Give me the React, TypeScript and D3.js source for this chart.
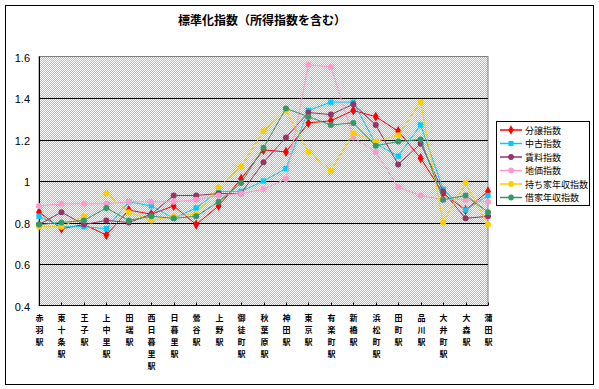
import { useRef, useEffect } from "react";
import * as d3 from "d3";

const STATIONS = [
  "赤羽駅", "東十条駅", "王子駅", "上中里駅", "田端駅", "西日暮里駅", "日暮里駅",
  "鶯谷駅", "上野駅", "御徒町駅", "秋葉原駅", "神田駅", "東京駅", "有楽町駅",
  "新橋駅", "浜松町駅", "田町駅", "品川駅", "大井町駅", "大森駅", "蒲田駅",
];

const BUNJO = [0.85, 0.77, 0.79, 0.74, 0.86, 0.84, 0.88, 0.79, 0.88, 1.01, 1.15, 1.14, 1.28, 1.29, 1.34, 1.31, 1.24, 1.11, 0.94, 0.86, 0.95];
const CHUKO = [0.83, 0.78, 0.78, 0.77, 0.9, 0.88, 0.82, 0.87, 0.95, 0.95, 1.0, 1.06, 1.34, 1.38, 1.38, 1.18, 1.12, 1.27, 0.96, 0.86, 0.93];
const CHINRYO = [0.79, 0.85, 0.79, 0.81, 0.8, 0.84, 0.93, 0.93, 0.94, 0.94, 1.09, 1.21, 1.33, 1.32, 1.37, 1.27, 1.08, 1.18, 0.95, 0.82, 0.83];
const CHIKA = [0.88, 0.89, 0.89, 0.89, 0.9, 0.9, 0.9, 0.91, 0.93, 0.94, 0.96, 1.01, 1.56, 1.55, 1.21, 1.14, 0.97, 0.93, 0.91, 0.91, 0.9];
const MOCHIIE = [0.78, 0.78, 0.83, 0.94, 0.85, 0.81, 0.83, 0.84, 0.97, 1.07, 1.24, 1.34, 1.14, 1.05, 1.23, 1.19, 1.22, 1.38, 0.8, 0.99, 0.79];
const SHAKUYA = [0.79, 0.8, 0.81, 0.87, 0.81, 0.83, 0.82, 0.83, 0.9, 0.99, 1.16, 1.35, 1.31, 1.27, 1.28, 1.17, 1.19, 1.2, 0.91, 0.93, 0.85];

const SERIES_NAMES = ["分譲指数", "中古指数", "賃料指数", "地価指数", "持ち家年収指数", "借家年収指数"];
const SERIES_VALUES = [BUNJO, CHUKO, CHINRYO, CHIKA, MOCHIIE, SHAKUYA];
const COLORS = ["#ff0000", "#00ccff", "#993366", "#ff99cc", "#ffcc00", "#339966"];
const SYMBOLS = [d3.symbolDiamond, d3.symbolSquare, d3.symbolCircle, d3.symbolCircle, d3.symbolCircle, d3.symbolCircle];
const Y_TICKS = [0.4, 0.6, 0.8, 1.0, 1.2, 1.4, 1.6];

const W = 599;
const H = 389;
const FONT = "'Noto Sans CJK JP', sans-serif";

export default function App() {
  const svgRef = useRef<SVGSVGElement>(null);

  useEffect(() => {
    if (!svgRef.current) return;
    const svg = d3.select(svgRef.current);
    svg.selectAll("*").remove();

    const left = 39, right = 488, top = 56.5, bottom = 305.5;

    const x = d3.scalePoint<string>().domain(STATIONS).range([left, right]);
    const y = d3.scaleLinear().domain([0.4, 1.6]).range([bottom, top]);

    svg.append("rect").attr("width", W).attr("height", H).attr("fill", "#fff");
    svg.append("rect")
      .attr("x", 5.5).attr("y", 5.5).attr("width", 588).attr("height", 379)
      .attr("fill", "none").attr("stroke", "#000");

    // dithered gray background, like the old excel plot area
    const pat = svg.append("defs").append("pattern")
      .attr("id", "dither").attr("width", 2).attr("height", 2)
      .attr("patternUnits", "userSpaceOnUse");
    pat.append("rect").attr("width", 2).attr("height", 2).attr("fill", "#fff");
    pat.append("rect").attr("x", 1).attr("y", 0).attr("width", 1).attr("height", 1).attr("fill", "#b8b8b8");
    pat.append("rect").attr("x", 0).attr("y", 1).attr("width", 1).attr("height", 1).attr("fill", "#b8b8b8");

    svg.append("rect")
      .attr("x", left).attr("y", top).attr("width", right - left).attr("height", bottom - top)
      .attr("fill", "url(#dither)").attr("stroke", "#808080");

    svg.append("text")
      .attr("x", 262).attr("y", 25).attr("text-anchor", "middle")
      .attr("font-family", FONT).attr("font-size", 12).attr("font-weight", "bold")
      .text("標準化指数（所得指数を含む）");

    // gridlines + y labels
    Y_TICKS.forEach((t) => {
      const yy = Math.round(y(t)) + 0.5;
      if (t > 0.4 && t < 1.6) {
        svg.append("line").attr("x1", left).attr("x2", right).attr("y1", yy).attr("y2", yy)
          .attr("stroke", "#000");
      }
      svg.append("text")
        .attr("x", 30).attr("y", yy + 4).attr("text-anchor", "end")
        .attr("font-family", "Arial, 'Liberation Sans', sans-serif").attr("font-size", 11)
        .text(String(t));
    });

    // axes
    svg.append("line").attr("x1", left + 0.5).attr("x2", left + 0.5).attr("y1", top).attr("y2", bottom)
      .attr("stroke", "#000");
    svg.append("line").attr("x1", left).attr("x2", right).attr("y1", bottom).attr("y2", bottom)
      .attr("stroke", "#000");
    STATIONS.forEach((s) => {
      const xx = Math.round(x(s)!) + 0.5;
      svg.append("line").attr("x1", xx).attr("x2", xx).attr("y1", bottom - 3).attr("y2", bottom)
        .attr("stroke", "#000");
      // one character per row, stacked vertically
      const lab = svg.append("text")
        .attr("font-family", FONT).attr("font-size", 8).attr("font-weight", "bold")
        .attr("text-anchor", "middle");
      Array.from(s).forEach((ch, i) => {
        lab.append("tspan").attr("x", xx).attr("y", 321 + i * 12).text(ch);
      });
    });

    // series
    const line = d3.line<number>()
      .x((_, i) => x(STATIONS[i])!)
      .y((v) => y(v));

    SERIES_VALUES.forEach((vals, si) => {
      svg.append("path")
        .attr("d", line(vals) ?? "")
        .attr("fill", "none")
        .attr("stroke", COLORS[si])
        .attr("stroke-width", 1);
      const sym = d3.symbol().type(SYMBOLS[si]).size(si === 0 ? 30 : 28);
      vals.forEach((v, i) => {
        svg.append("path")
          .attr("d", sym() ?? "")
          .attr("transform", `translate(${x(STATIONS[i])}, ${y(v)})`)
          .attr("fill", COLORS[si]);
      });
    });

    // legend
    const lg = svg.append("g");
    lg.append("rect").attr("x", 496.5).attr("y", 121.5).attr("width", 93).attr("height", 84)
      .attr("fill", "#fff").attr("stroke", "#000");
    SERIES_NAMES.forEach((name, si) => {
      const ly = 130 + si * 13.5;
      lg.append("line").attr("x1", 500).attr("x2", 522).attr("y1", ly).attr("y2", ly)
        .attr("stroke", COLORS[si]).attr("stroke-width", 1.5);
      lg.append("path")
        .attr("d", d3.symbol().type(SYMBOLS[si]).size(26)() ?? "")
        .attr("transform", `translate(511, ${ly})`)
        .attr("fill", COLORS[si]);
      lg.append("text")
        .attr("x", 525).attr("y", ly + 3.5)
        .attr("font-family", FONT).attr("font-size", 9)
        .text(name);
    });
  }, []);

  return (
    <div style={{ position: "fixed", left: 0, top: 0 }}>
      <svg ref={svgRef} width={W} height={H} style={{ display: "block" }} />
    </div>
  );
}
